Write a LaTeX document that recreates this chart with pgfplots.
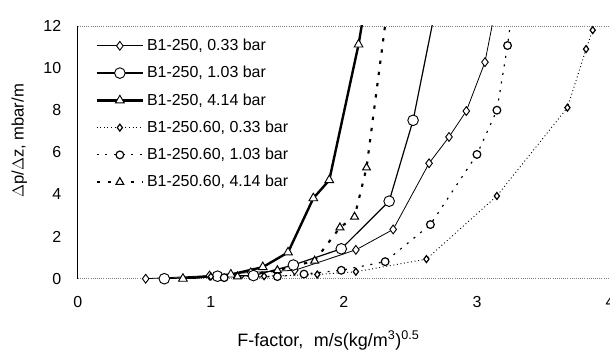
\documentclass[border=0pt]{standalone}
\usepackage{fontspec}
\setmainfont{Liberation Sans}
\usepackage{pgfplots}
\pgfplotsset{compat=1.18}
\begin{document}
\begin{tikzpicture}
\path[use as bounding box] (-58.5pt,-54.75pt) rectangle (400pt,209.5pt);
\begin{axis}[
  at={(0,0)}, anchor=south west,
  scale only axis, width=400pt, height=190pt,
  xmin=0, xmax=4, ymin=0, ymax=12,
  xtick={0,1,2,3,4}, ytick={0,2,4,6,8,10,12},
  axis x line=box, axis y line*=left,
  x axis line style={gray, densely dotted, line width=0.6pt},
  y axis line style={black, line width=0.8pt},
  major tick length=0pt,
  tick label style={font=\fontsize{12}{14}\selectfont},
  /pgf/number format/assume math mode=true,
  xticklabel style={yshift=-10pt},
  yticklabel style={xshift=-9pt},
  xlabel={F-factor,\hspace{8pt}m/s(kg/m\textsuperscript{3})\textsuperscript{0.5}},
  ylabel={$\Delta$p/$\Delta$z, mbar/m},
  xlabel style={font=\fontsize{13.5}{15}\selectfont, at={(axis description cs:0.471,0)}, anchor=base, yshift=-51pt},
  ylabel style={font=\fontsize{12.5}{15}\selectfont, at={(axis description cs:-0.11,0.545)}, anchor=center},
  clip=true,
  legend style={at={(0.03,0.965)}, anchor=north west, draw=none, fill=white,
    font=\fontsize{12}{14}\selectfont, row sep=6.3pt, inner sep=1pt},
  legend cell align=left,
  legend image code/.code={\draw[mark repeat=2,mark phase=2,#1] plot coordinates {(0pt,0pt) (17.5pt,0pt) (35pt,0pt)};},
  every axis plot/.append style={black},
]
% B1-250, 0.33 bar
\addplot[line width=0.6pt, mark=diamond*, mark options={fill=white, solid, line width=0.7pt}, mark size=3.3pt]
coordinates {(0.51,0.0) (0.99,0.15) (1.30,0.30) (1.63,0.40) (2.09,1.37) (2.37,2.34) (2.64,5.48) (2.79,6.73) (2.92,7.96) (3.06,10.28) (3.16,13.5)};
\addlegendentry{B1-250, 0.33 bar}
% B1-250, 1.03 bar
\addplot[line width=0.9pt, mark=*, mark options={fill=white, solid, line width=0.7pt}, mark size=4pt]
coordinates {(0.65,0.0) (1.05,0.12) (1.32,0.15) (1.62,0.65) (1.98,1.42) (2.34,3.68) (2.52,7.52) (2.71,13.5)};
\addlegendentry{B1-250, 1.03 bar}
% B1-250, 4.14 bar
\addplot[line width=1.8pt, mark=triangle*, mark options={fill=white, solid, line width=0.7pt}, mark size=3.8pt]
coordinates {(0.79,0.0) (1.15,0.20) (1.39,0.55) (1.58,1.25) (1.77,3.82) (1.89,4.68) (2.11,11.12) (2.16,13.0)};
\addlegendentry{B1-250, 4.14 bar}
% B1-250.60, 0.33 bar
\addplot[line width=0.7pt, dotted, mark=diamond*, mark options={fill=white, solid, line width=0.9pt}, mark size=2.6pt]
coordinates {(1.00,0.10) (1.40,0.12) (1.80,0.20) (2.09,0.33) (2.62,0.93) (3.15,3.93) (3.68,8.12) (3.82,10.90) (3.87,11.8)};
\addlegendentry{B1-250.60, 0.33 bar}
% B1-250.60, 1.03 bar
\addplot[line width=0.9pt, dash pattern=on 1.5pt off 5pt, mark=*, mark options={fill=white, solid, line width=0.9pt}, mark size=2.9pt]
coordinates {(1.10,0.05) (1.50,0.10) (1.70,0.22) (1.98,0.40) (2.31,0.81) (2.65,2.57) (3.00,5.90) (3.15,8.00) (3.23,11.07) (3.27,13.0)};
\addlegendentry{B1-250.60, 1.03 bar}
% B1-250.60, 4.14 bar
\addplot[line width=1.6pt, dash pattern=on 2.5pt off 6pt, mark=triangle*, mark options={fill=white, solid, line width=0.8pt}, mark size=3.4pt]
coordinates {(1.20,0.10) (1.50,0.40) (1.78,0.85) (1.97,2.43) (2.08,2.94) (2.17,5.27) (2.34,13.5)};
\addlegendentry{B1-250.60, 4.14 bar}
\end{axis}
\end{tikzpicture}
\end{document}
